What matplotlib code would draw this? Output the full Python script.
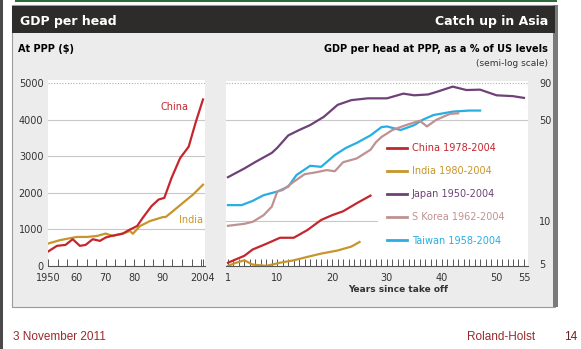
import numpy as np
import matplotlib
matplotlib.use("Agg")
from matplotlib import pyplot as plt
from matplotlib.patches import Rectangle

# Left panel: GDP per head at PPP ($)
china_years = [1950, 1953, 1956, 1958.5, 1961, 1963, 1965.5, 1968, 1970, 1972, 1976, 1978,
               1981, 1983, 1986, 1988.5, 1990.5, 1993, 1996, 1999, 2001.5, 2004]
china_gdp = [400, 550, 577, 732, 550, 577, 732, 686, 778, 821, 886, 976,
             1092, 1320, 1634, 1816, 1862, 2403, 2946, 3260, 3938, 4550]
india_years = [1950, 1954, 1957.5, 1960, 1963.5, 1967, 1970, 1972.5, 1976, 1978.5, 1979.5,
               1982, 1985.5, 1990, 1991, 1993.5, 1997, 2000.5, 2004]
india_gdp = [615, 705, 759, 794, 794, 821, 886, 821, 886, 957, 880,
             1092, 1228, 1336, 1340, 1499, 1726, 1951, 2222]
left_ticks = [1950, 1960, 1970, 1980, 1990, 2004]
left_ticklabels = ['1950', '60', '70', '80', '90', '2004']
left_yticks = [0, 1000, 2000, 3000, 4000, 5000]

# Right panel: % of US levels vs years since take off
japan_x = [1, 4, 6, 9, 10, 12, 14, 16, 18.5, 21, 23.5, 26.5, 30, 33, 35, 37.5, 39, 42,
           44.5, 47, 50, 53, 55]
japan_y = [20, 23, 25.5, 29.5, 32, 39, 42.5, 46, 52.5, 63.5, 68.5, 70.5, 70.5, 76, 74, 75,
           78, 85, 80.5, 81, 74, 73, 71]
taiwan_x = [1, 3.5, 5.5, 7.5, 10, 12, 13.5, 16, 18, 20.5, 22.5, 24.5, 27, 29, 30, 32.5,
            35, 36.5, 38.5, 42, 45, 47]
taiwan_y = [12.8, 12.8, 13.7, 15, 15.9, 17.2, 20.7, 24, 23.6, 28.5, 31.9, 34.6, 39, 44.5,
            45, 42.5, 46, 50, 54, 57, 58, 58]
skorea_x = [1, 4, 5.5, 7.5, 9, 10, 11, 13, 15, 17, 19, 20.5, 22, 24.5, 27, 28, 29, 31,
            33.5, 36, 37.3, 39, 41.5, 43]
skorea_y = [9.2, 9.5, 9.8, 10.9, 12.5, 15.9, 16.3, 18.6, 21, 21.6, 22.4, 22, 25.4, 27, 31,
            35, 38, 42.5, 46, 49.3, 45, 50, 55, 55.5]
chinar_x = [1, 4, 5.5, 8, 10.5, 13, 15.5, 18, 20, 22, 24.5, 27]
chinar_y = [5.1, 5.7, 6.3, 6.9, 7.6, 7.6, 8.6, 10.1, 10.9, 11.6, 13.2, 14.9]
indiar_x = [1, 2.5, 4, 5.5, 8, 10.5, 13, 15.5, 18, 21, 23.5, 25]
indiar_y = [4.85, 5.1, 5.3, 4.95, 4.85, 5.1, 5.3, 5.6, 5.9, 6.2, 6.6, 7.1]
right_ticks = [1, 10, 20, 30, 40, 50, 55]
right_yticks = [5, 10, 50, 90]

c_china = '#c4262e'
c_india = '#c8952c'
c_japan = '#6e4277'
c_korea = '#c09191'
c_taiwan = '#27aee3'
c_text = '#333333'
c_foot = '#9a2a2a'

W, H = 581, 349
fig = plt.figure(figsize=(W / 100, H / 100), dpi=100, facecolor='white')


def box(x0, y0, x1, y1, **kw):
    r = Rectangle((x0 / W, 1 - y1 / H), (x1 - x0) / W, (y1 - y0) / H,
                  transform=fig.transFigure, zorder=-5, **kw)
    fig.patches.append(r)


def ftext(x, y, s, **kw):
    fig.text(x / W, 1 - y / H, s, **kw)


def axes_px(x0, y0, x1, y1):
    return fig.add_axes([x0 / W, 1 - y1 / H, (x1 - x0) / W, (y1 - y0) / H])


# Frame, header, side bar
box(0, 0, 3, H, color='#4a4a4a', lw=0)
box(15, 0, 557, 2, color='#2f6b3a', lw=0)
box(12, 5, 555, 307, facecolor='#ececec', edgecolor='#9a9a9a', lw=0.8)
box(553, 5, 558, 307, color='#7a7a7a', lw=0)
box(12, 6, 555, 33, color='#2e2c2b', lw=0)

ftext(20, 21, 'GDP per head', color='white', fontsize=9, fontweight='bold', va='center')
ftext(548, 21, 'Catch up in Asia', color='white', fontsize=9, fontweight='bold',
      va='center', ha='right')
ftext(18, 49, 'At PPP ($)', color='black', fontsize=7, fontweight='bold', va='center')
ftext(548, 49, 'GDP per head at PPP, as a % of US levels', color='black', fontsize=7,
      fontweight='bold', va='center', ha='right')
ftext(548, 63, '(semi-log scale)', color=c_text, fontsize=6.5, va='center', ha='right')

# Left chart
ax1 = axes_px(47.5, 80, 205, 266)
ax1.set_facecolor('white')
ax1.plot(india_years, india_gdp, color=c_india, lw=1.6)
ax1.plot(china_years, china_gdp, color=c_china, lw=1.6)
ax1.set_xlim(1949.7, 2004.7)
ax1.set_ylim(0, 5082)
for v in left_yticks[1:-1]:
    ax1.axhline(v, color='#c8c8c8', lw=0.8, zorder=0)
ax1.axhline(5000, color='#b0b0b0', lw=0.8, ls=(0, (1, 1.5)), zorder=0)
ax1.set_yticks(left_yticks)
ax1.set_yticklabels([str(v) for v in left_yticks])
ax1.set_xticks(left_ticks)
ax1.set_xticklabels(left_ticklabels)
ax1.set_xticks(np.arange(1950, 2005, 10 / 3), minor=True)
ax1.tick_params(axis='y', length=0, pad=3, labelsize=7, labelcolor=c_text)
ax1.tick_params(axis='x', which='both', direction='in', length=5, width=0.7,
                color='#555555', labelsize=7, labelcolor=c_text, pad=5)
for s in ['left', 'right', 'top']:
    ax1.spines[s].set_visible(False)
ax1.spines['bottom'].set_color('#555555')
ax1.spines['bottom'].set_linewidth(0.8)
ax1.text(1994.1, 4340, 'China', color=c_china, fontsize=7, ha='center', va='center')
ax1.text(1999.7, 1260, 'India', color=c_india, fontsize=7, ha='center', va='center')

# Right chart
ax2 = axes_px(226, 81, 528, 266)
ax2.set_facecolor('white')
ax2.set_yscale('log')
ax2.plot(japan_x, japan_y, color=c_japan, lw=1.6)
ax2.plot(taiwan_x, taiwan_y, color=c_taiwan, lw=1.6)
ax2.plot(skorea_x, skorea_y, color=c_korea, lw=1.6)
ax2.plot(chinar_x, chinar_y, color=c_china, lw=1.6)
ax2.plot(indiar_x, indiar_y, color=c_india, lw=1.6)
ax2.set_xlim(0.64, 55.74)
ax2.set_ylim(4.84, 93)
ax2.axhline(50, color='#c8c8c8', lw=0.8, zorder=0)
ax2.axhline(10, xmax=0.5, color='#c8c8c8', lw=0.8, zorder=0)
ax2.axhline(90, color='#b0b0b0', lw=0.8, ls=(0, (1, 1.5)), zorder=0)
ax2.yaxis.tick_right()
ax2.set_yticks(right_yticks)
ax2.set_yticklabels([str(v) for v in right_yticks])
ax2.yaxis.set_minor_locator(matplotlib.ticker.NullLocator())
ax2.set_xticks(right_ticks)
ax2.set_xticks(np.arange(1, 56), minor=True)
ax2.tick_params(axis='y', length=0, pad=8, labelsize=7, labelcolor=c_text)
ax2.tick_params(axis='x', which='both', direction='in', length=5, width=0.7,
                color='#555555', labelsize=7, labelcolor=c_text, pad=5)
for s in ['left', 'right', 'top']:
    ax2.spines[s].set_visible(False)
ax2.spines['bottom'].set_color('#555555')
ax2.spines['bottom'].set_linewidth(0.8)

handles = [plt.Line2D([], [], color=c, lw=2) for c in
           [c_china, c_india, c_japan, c_korea, c_taiwan]]
labels = ['China 1978-2004', 'India 1980-2004', 'Japan 1950-2004',
          'S Korea 1962-2004', 'Taiwan 1958-2004']
leg = ax2.legend(handles, labels, loc='upper left', bbox_to_anchor=(0.525, 0.68),
                 fontsize=7, handlelength=2.0, handletextpad=0.5, labelspacing=1.35,
                 borderpad=0.3, borderaxespad=0, frameon=True, facecolor='white',
                 edgecolor='none', framealpha=1, labelcolor='linecolor')

ftext(398, 289, 'Years since take off', color=c_text, fontsize=6.5, ha='center',
      va='center', fontweight='bold')

# Footer
ftext(13, 337, '3 November 2011', color=c_foot, fontsize=8.5, va='center',
      family='Liberation Sans')
ftext(535, 337, 'Roland-Holst', color=c_foot, fontsize=8.5, va='center', ha='right',
      family='Liberation Sans')
ftext(577, 337, '14', color='#6a2020', fontsize=8.5, va='center', ha='right',
      family='Liberation Sans')

fig.savefig('out.png', dpi=100, facecolor='white')
